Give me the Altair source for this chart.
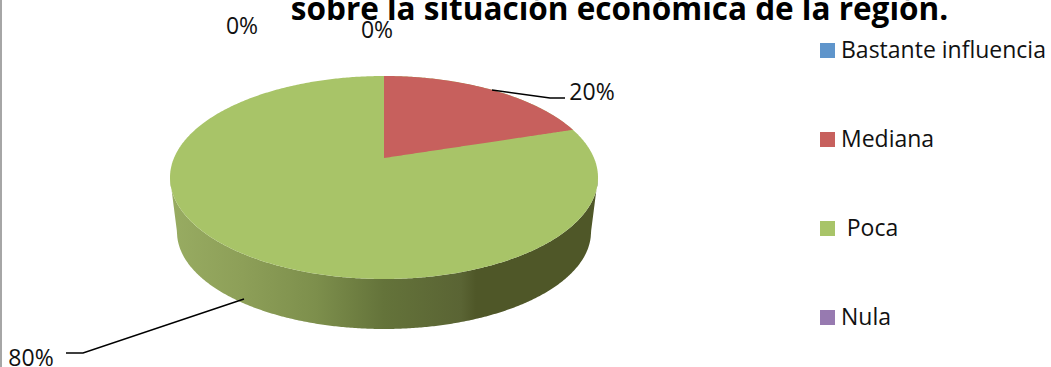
import altair as alt
import numpy as np
import pandas as pd

categories = ["Bastante influencia", "Mediana", "\u200b\u2005Poca", "Nula"]
colors = ["#5f95cb", "#c7605d", "#a8c468", "#977ab0"]
shares = [0, 20, 80, 0]
title_text = "sobre la situación económica de la región."
FONT = "Open Sans"

# Tilted pie geometry, in chart pixels
cx, cy, rx, ry = 384.0, 177.5, 214.0, 101.5
bx, by, brx, bry = 384.0, 232.0, 207.0, 97.0
apex_y = 158.0
foreshorten = 0.61


def top_rim(x, sign):
    u = np.clip((x - cx) / rx, -1, 1)
    return cy + sign * ry * np.sqrt(1 - u ** 2)


def bottom_rim(x):
    u = np.clip((x - bx) / brx, -1, 1)
    return by + bry * np.sqrt(1 - u ** 2)


# Top face: the whole disc in the largest slice's colour
xs = cx + rx * np.sin(np.linspace(-np.pi / 2, np.pi / 2, 361))
disc = pd.DataFrame({"px": xs, "top": top_rim(xs, -1), "low": top_rim(xs, 1), "cat": categories[2]})

# Second slice, clockwise from twelve o'clock
theta = np.radians(shares[1] * 3.6)
t_edge = np.arctan2(np.sin(theta) * foreshorten, np.cos(theta))
x_edge = cx + rx * np.sin(t_edge)
y_edge = cy - ry * np.cos(t_edge)
xr = cx + rx * np.sin(np.linspace(0, t_edge, 120))
slice_df = pd.DataFrame({
    "px": xr,
    "top": top_rim(xr, -1),
    "low": apex_y + (y_edge - apex_y) * (xr - cx) / (x_edge - cx),
    "cat": categories[1],
})

# Side wall: between the near rim of the top face and the lower rim
wall_bottom = np.where(
    xs < bx - brx, cy + (by - cy) * (xs - (cx - rx)) / ((bx - brx) - (cx - rx)),
    np.where(xs > bx + brx, cy + (by - cy) * ((cx + rx) - xs) / ((cx + rx) - (bx + brx)), bottom_rim(xs)),
)
wall = pd.DataFrame({"px": xs, "top": top_rim(xs, 1), "low": wall_bottom})

x_scale = alt.Scale(domain=[0, 1051], range=[0, 1051], nice=False, zero=False)
y_scale = alt.Scale(domain=[0, 367], range=[0, 367], nice=False, zero=False)
x_enc = alt.X("px:Q", axis=None, scale=x_scale)
y_enc = alt.Y("top:Q", axis=None, scale=y_scale)
y2_enc = alt.Y2("low:Q")

color_enc = alt.Color(
    "cat:N",
    scale=alt.Scale(domain=categories, range=colors),
    legend=alt.Legend(
        title=None, orient="none", legendX=816, legendY=35, padding=0,
        symbolType="square", symbolSize=225, symbolStrokeWidth=0,
        labelFont=FONT, labelFontSize=23, labelColor="#111111",
        labelOffset=2, rowPadding=58, labelLimit=260, clipHeight=31,
    ),
)

wall_layer = alt.Chart(wall).mark_area(
    stroke=None,
    color=alt.Gradient(
        gradient="linear", x1=0, x2=1, y1=0, y2=0,
        stops=[
            alt.GradientStop(offset=0.0, color="#98ac62"),
            alt.GradientStop(offset=0.17, color="#8d9f58"),
            alt.GradientStop(offset=0.34, color="#7d8f4c"),
            alt.GradientStop(offset=0.5, color="#64733a"),
            alt.GradientStop(offset=0.68, color="#5a6434"),
            alt.GradientStop(offset=0.715, color="#4f5728"),
            alt.GradientStop(offset=1.0, color="#4f5728"),
        ],
    ),
).encode(x=x_enc, y=y_enc, y2=y2_enc)

disc_layer = alt.Chart(disc).mark_area().encode(x=x_enc, y=y_enc, y2=y2_enc, color=color_enc)
slice_layer = alt.Chart(slice_df).mark_area().encode(x=x_enc, y=y_enc, y2=y2_enc, color=color_enc)

# Leader lines and percentage labels
leaders = pd.DataFrame({
    "px": [492, 550, 565, 244, 83, 66],
    "top": [90, 98, 98, 299, 353, 353],
    "id": ["a", "a", "a", "b", "b", "b"],
    "seq": [0, 1, 2, 0, 1, 2],
})
leader_layer = alt.Chart(leaders).mark_line(color="#000000", strokeWidth=1.4).encode(
    x=x_enc, y=y_enc, detail="id:N", order="seq:Q"
)

labels = pd.DataFrame({
    "px": [242, 377, 592, 31],
    "top": [27, 31, 93, 359],
    "text": [f"{shares[0]}%", f"{shares[3]}%", f"{shares[1]}%", f"{shares[2]}%"],
})
label_layer = alt.Chart(labels).mark_text(
    font=FONT, fontSize=23, color="#111111", align="center", baseline="middle"
).encode(x=x_enc, y=y_enc, text="text:N")

title_layer = alt.Chart(pd.DataFrame({"px": [619.5], "top": [20], "text": [title_text]})).mark_text(
    font=FONT, fontSize=31.5, fontWeight="bold", color="#000000", align="center", baseline="alphabetic"
).encode(x=x_enc, y=y_enc, text="text:N")

border = alt.Chart(pd.DataFrame({"px": [1]})).mark_rule(color="#a6a6a6", strokeWidth=2).encode(x=x_enc)

chart = alt.layer(
    border, wall_layer, disc_layer, slice_layer, leader_layer, label_layer, title_layer
).properties(
    width=1051, height=367, padding=0, autosize=alt.AutoSizeParams(type="none")
).configure_view(stroke=None)

chart.save("out.html", embed_options={"renderer": "svg", "actions": False})
